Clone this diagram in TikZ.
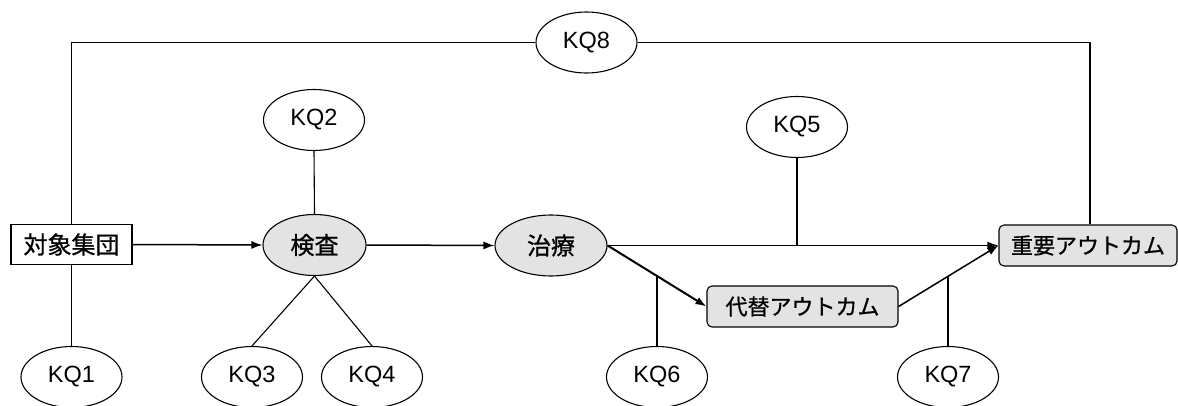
\documentclass[tikz,border=0pt]{standalone}
\usepackage{fontspec}
\setmainfont{Liberation Sans}
\newfontfamily\jp[FakeBold=0.8]{Noto Sans CJK JP}
\usetikzlibrary{arrows.meta,shapes.geometric}
\tikzset{
  kq/.style={ellipse,draw,line width=1.1pt,minimum width=101pt,minimum height=61pt,inner sep=0pt,font=\fontsize{23.5}{26}\selectfont},
  mainell/.style={ellipse,draw,line width=1.1pt,fill=black!11,minimum height=61pt,inner sep=0pt,font=\jp\fontsize{24}{26}\selectfont},
  sqbox/.style={rectangle,draw,line width=1.1pt,minimum height=40pt,inner sep=0pt,font=\jp\fontsize{24}{26}\selectfont},
  rbox/.style={rectangle,rounded corners=5pt,draw,line width=1.1pt,fill=black!11,minimum height=41pt,inner sep=0pt,font=\jp\fontsize{22}{26}\selectfont},
  link/.style={line width=1.1pt},
  arr/.style={line width=1.5pt,-{Latex[length=11pt,width=8pt]}},
}
\begin{document}
\begin{tikzpicture}[x=1pt,y=-1pt]
\useasboundingbox (0,0) rectangle (1178,406);
% main nodes
\node[sqbox,minimum width=121pt] (taisho) at (71.5,244.5) {対象集団};
\node[mainell,minimum width=103pt] (kensa) at (314.5,245) {検査};
\node[mainell,minimum width=112pt] (chiryo) at (551,245.5) {治療};
\node[rbox,minimum width=191pt] (daitai) at (802.5,306.5) {代替アウトカム};
\node[rbox,minimum width=178pt] (juyo) at (1088,245.5) {重要アウトカム};
% KQ nodes
\node[kq] (kq1) at (71.5,377) {KQ1};
\node[kq] (kq2) at (314,120) {KQ2};
\node[kq] (kq3) at (252,377) {KQ3};
\node[kq] (kq4) at (372,377) {KQ4};
\node[kq] (kq5) at (797,127) {KQ5};
\node[kq] (kq6) at (657,377) {KQ6};
\node[kq] (kq7) at (948,377) {KQ7};
\node[kq] (kq8) at (586.5,42.5) {KQ8};
% arrows
\draw[arr] (taisho.east) -- (kensa.west);
\draw[arr] (kensa.east) -- (chiryo.west);
\draw[arr] (chiryo.east) -- (juyo.west);
\draw[arr,line width=2pt] (chiryo.east) -- coordinate[pos=0.49] (j6) (daitai.west);
\draw[arr] (daitai.east) -- coordinate[pos=0.495] (j7) (juyo.west);
% KQ links
\draw[link] (taisho.south) -- (kq1.north);
\draw[link] (kq2.south) -- (kensa.north);
\draw[link] (kensa.south) -- (kq3.north);
\draw[link] (kensa.south) -- (kq4.north);
\draw[link] (kq5.south) -- (kq5.south |- chiryo.east);
\draw[link] (kq6.north) -- (kq6.north |- j6);
\draw[link] (kq7.north) -- (kq7.north |- j7);
\draw[link] (taisho.north) |- (kq8.west);
\draw[link] (kq8.east) -| ([xshift=2pt]juyo.north);
\end{tikzpicture}
\end{document}
